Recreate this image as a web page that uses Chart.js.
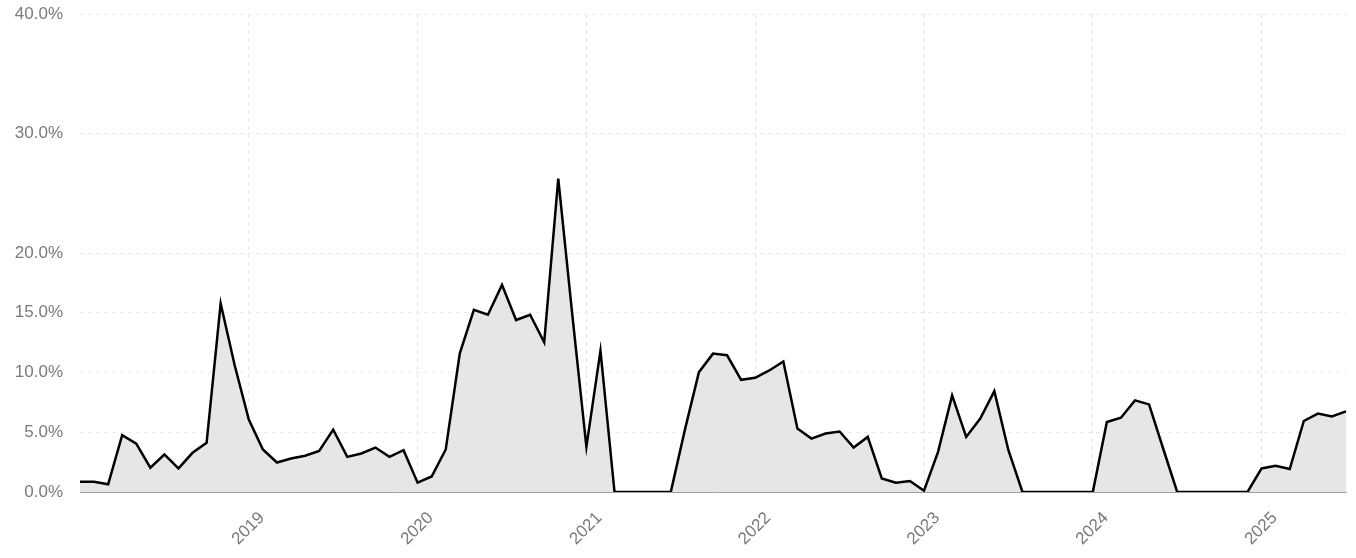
<!DOCTYPE html>
<html>
<head>
<meta charset="utf-8">
<script src="https://cdn.jsdelivr.net/npm/chart.js@4"></script>
<style>
  html, body { margin: 0; padding: 0; background: #fff; }
  #wrap { width: 1356px; height: 558px; }
</style>
</head>
<body>
<div id="wrap"><canvas id="c" width="1356" height="558"></canvas></div>
<script>
// Months 2018-01 .. 2025-07
const months = [];
for (let y = 2018; y <= 2025; y++) {
  for (let m = 1; m <= 12; m++) {
    if (y === 2025 && m > 7) break;
    months.push(y + '-' + String(m).padStart(2, '0'));
  }
}
const values = [
  0.85, 0.85, 0.65, 4.75, 4.05, 2.03, 3.14, 1.97, 3.28, 4.11, 15.78, 10.58,
  6.06, 3.56, 2.47, 2.8, 3.03, 3.44, 5.22, 2.94, 3.22, 3.72, 2.94, 3.5,
  0.78, 1.3, 3.56, 11.61, 15.25, 14.83, 17.33, 14.39, 14.83, 12.53, 26.22, 14.8,
  3.78, 11.83, 0, 0, 0, 0, 0, 5.2, 10.03, 11.58, 11.44, 9.39,
  9.56, 10.17, 10.92, 5.31, 4.47, 4.89, 5.06, 3.72, 4.61, 1.14, 0.78, 0.92,
  0.11, 3.36, 8.08, 4.61, 6.14, 8.44, 3.5, 0, 0, 0, 0, 0,
  0, 5.86, 6.22, 7.67, 7.33, 3.64, 0, 0, 0, 0, 0, 0,
  1.97, 2.19, 1.92, 5.94, 6.56, 6.33, 6.75
];
const yTicks = [0, 5, 10, 15, 20, 30, 40];

new Chart(document.getElementById('c'), {
  type: 'line',
  data: {
    labels: months,
    datasets: [{
      data: values,
      borderColor: '#000',
      borderWidth: 2.5,
      backgroundColor: '#e6e6e6',
      fill: 'origin',
      pointRadius: 0,
      tension: 0
    }]
  },
  options: {
    responsive: false,
    animation: false,
    layout: { padding: { top: 14, right: 10, left: 0, bottom: 0 } },
    plugins: { legend: { display: false }, tooltip: { enabled: false } },
    scales: {
      x: {
        type: 'category',
        offset: false,
        afterBuildTicks: (scale) => {
          scale.ticks = months.map((m, i) => ({ value: i })).filter(t => months[t.value].endsWith('-01') && months[t.value] !== '2018-01');
        },
        afterFit: (scale) => { scale.height = 66; scale.paddingLeft = 0; scale.paddingRight = 0; },
        ticks: {
          autoSkip: false,
          maxRotation: 45,
          minRotation: 45,
          color: '#7a7a7a',
          padding: 16,
          labelOffset: 13,
          font: { family: 'Liberation Sans, Arial, sans-serif', size: 17 },
          callback: function (val) { return months[val].slice(0, 4); }
        },
        grid: {
          color: '#e6e6e6',
          lineWidth: 1,
          drawTicks: false
        },
        border: { display: true, color: '#a0a0a0', width: 1, dash: [4, 4] }
      },
      y: {
        min: 0,
        max: 40,
        afterBuildTicks: (scale) => { scale.ticks = yTicks.map(v => ({ value: v })); },
        afterFit: (scale) => { scale.width = 80; scale.paddingTop = 0; scale.paddingBottom = 0; },
        ticks: {
          color: '#7a7a7a',
          padding: 17,
          font: { family: 'Liberation Sans, Arial, sans-serif', size: 17 },
          callback: (v) => v.toFixed(1) + '%'
        },
        grid: { color: '#ebebeb', lineWidth: 1, drawTicks: false },
        border: { display: false, dash: [4, 4] }
      }
    }
  }
});
</script>
</body>
</html>
